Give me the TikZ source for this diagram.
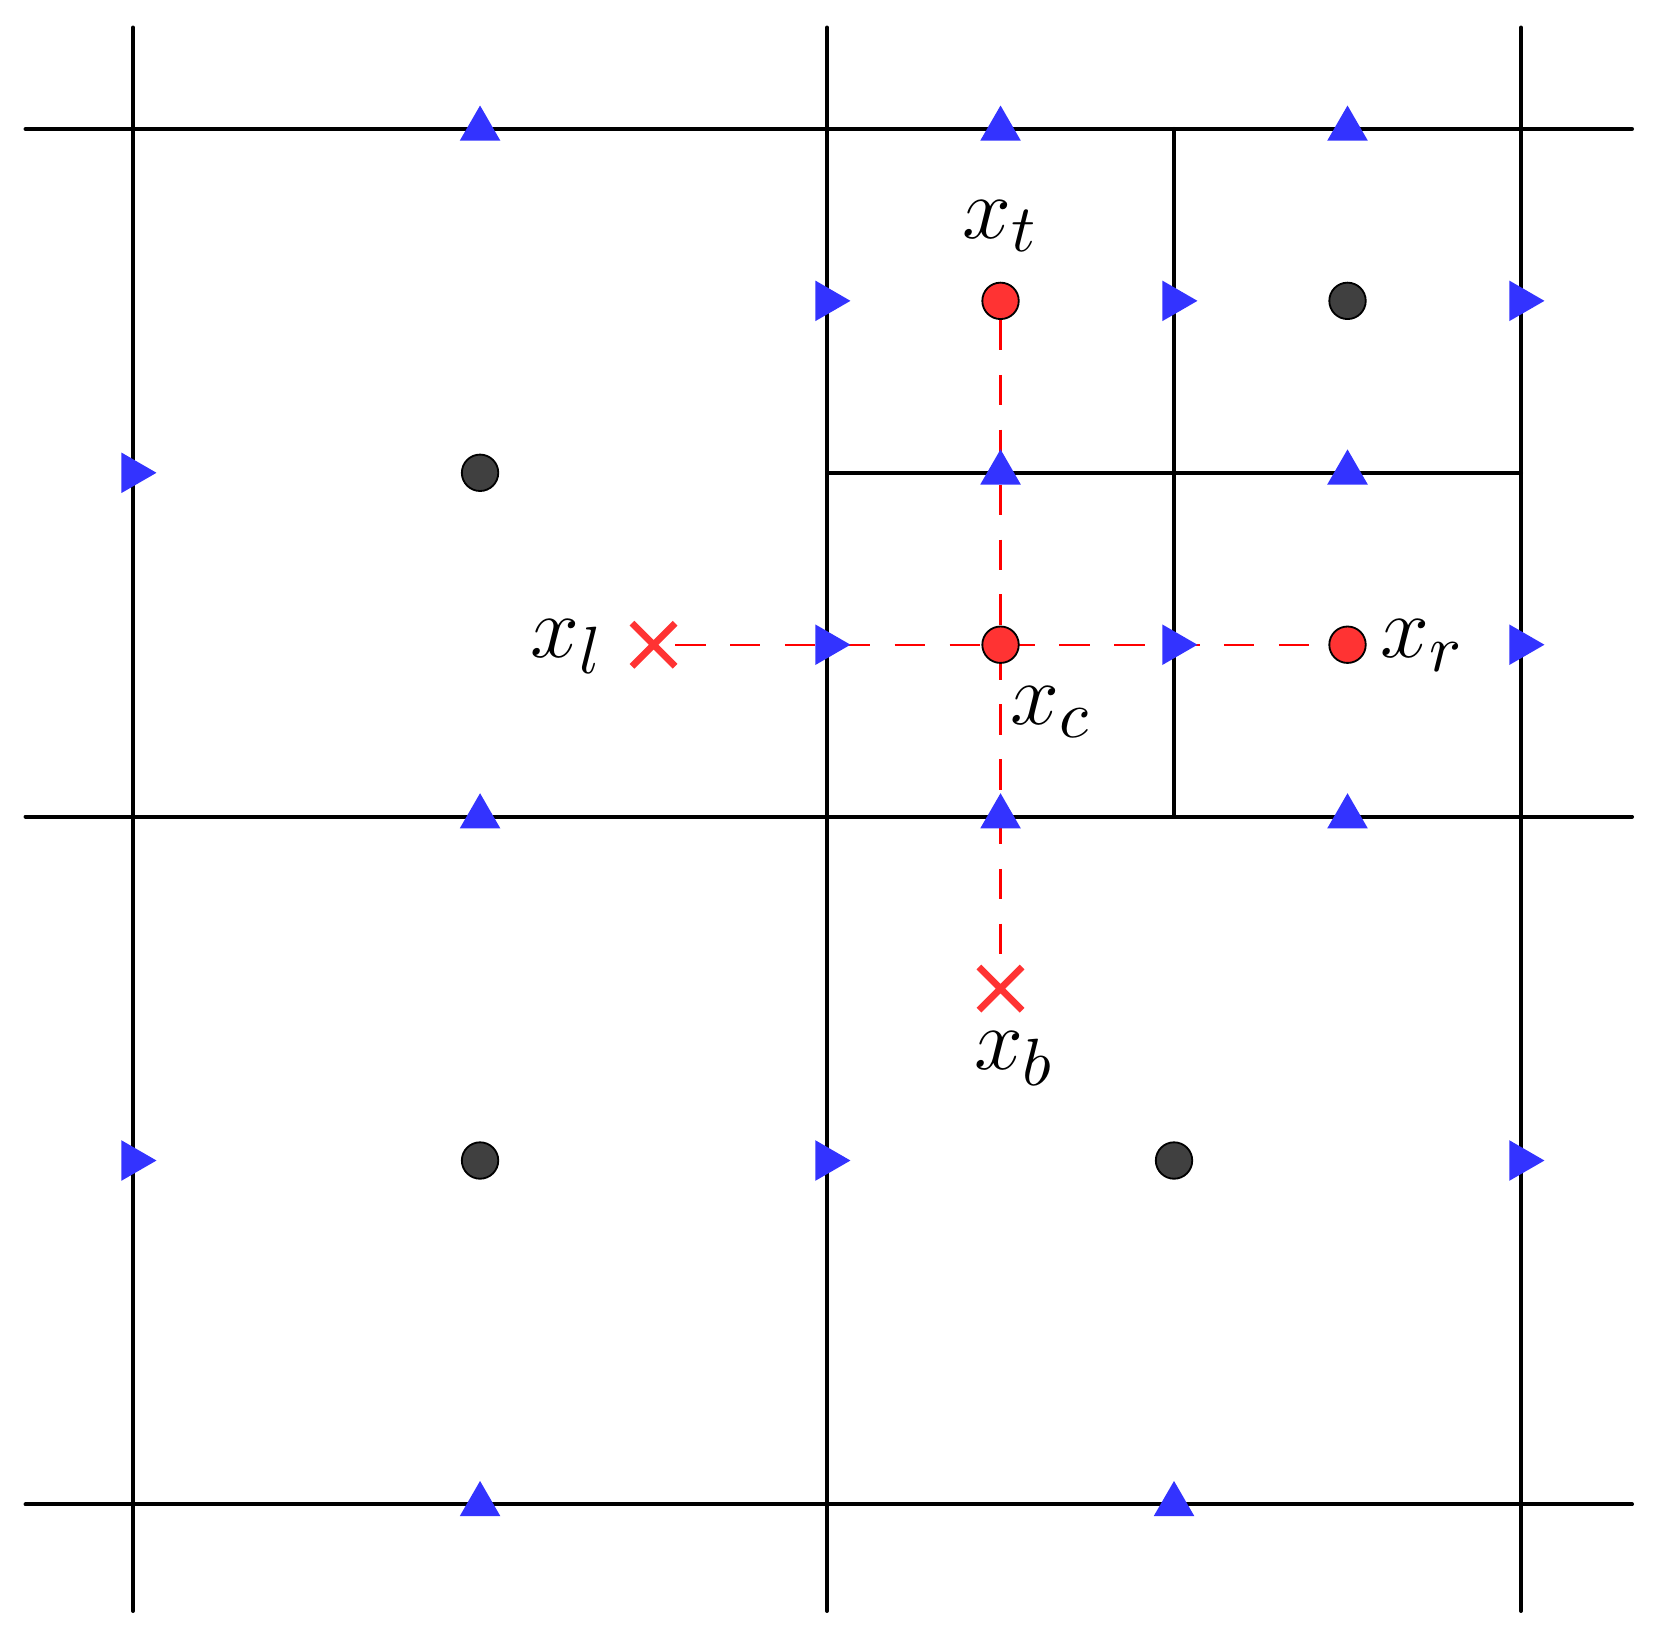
\documentclass[tikz,border=0pt]{standalone}
\usetikzlibrary{positioning,shapes.geometric,shapes.misc}
\tikzset{
  gridline/.style={line width=0.65pt, line cap=round},
  facex/.style={regular polygon, regular polygon sides=3, fill=blue!80, inner sep=0pt, minimum size=0.27cm},
  facey/.style={facex, shape border rotate=-90},
  cell/.style={circle, draw=black, line width=0.3pt, fill=black!75, inner sep=0pt, minimum size=0.21cm},
  hot/.style={cell, fill=red!80},
  ghost/.style={cross out, draw=red!80, line width=1.1pt, inner sep=0pt, minimum size=0.21cm},
  stencil/.style={red, line width=0.4pt, dash pattern=on 5pt off 4pt},
  lab/.style={font=\fontsize{15.5}{18}\selectfont, inner sep=1pt}
}
\begin{document}
\begin{tikzpicture}[x=1cm,y=0.991cm]
\useasboundingbox (-0.767,-0.738) rectangle (8.778,8.750);
% coarse and fine grid
\foreach \p in {0,4,8} {
  \draw[gridline] (\p,-0.62) -- (\p,8.59);
  \draw[gridline] (-0.62,\p) -- (8.64,\p);
}
\draw[gridline] (6,4) -- (6,8);
\draw[gridline] (4,6) -- (8,6);
% cell centres
\node[cell] (c1) at (2,6) {};
\node[cell] (c2) at (2,2) {};
\node[cell] (c3) at (6,2) {};
\node[cell] (c4) at (7,7) {};
\node[hot] (xt) at (5,7) {};
\node[hot] (xr) at (7,5) {};
\node[ghost] (xl) at (3,5) {};
\node[ghost] (xb) at (5,3) {};
\draw[stencil] (xl) -- (xr);
\draw[stencil] (xt) -- (xb);
\node[hot] (xc) at (5,5) {};
% face fluxes
\foreach \x/\y [count=\i] in {2/8,5/8,7/8,5/6,7/6,2/4,5/4,7/4,2/0,6/0}
  \node[facex] (u\i) at (\x,\y) {};
\foreach \x/\y [count=\i] in {0/6,4/7,6/7,8/7,4/5,6/5,8/5,0/2,4/2,8/2}
  \node[facey] (v\i) at (\x,\y) {};
% labels
\node[lab, above=0.13cm of xt] (lt) {$x_t$};
\node[lab, left=0.12cm of xl, anchor=mid east] (ll) {$x_l$};
\node[lab, right=0.04cm of xr, anchor=mid west] (lr) {$x_r$};
\node[lab, below right=0.12cm and -0.06cm of xc] (lc) {$x_c$};
\node[lab, below=0.08cm of xb, xshift=0.08cm] (lb) {$x_b$};
\end{tikzpicture}
\end{document}
